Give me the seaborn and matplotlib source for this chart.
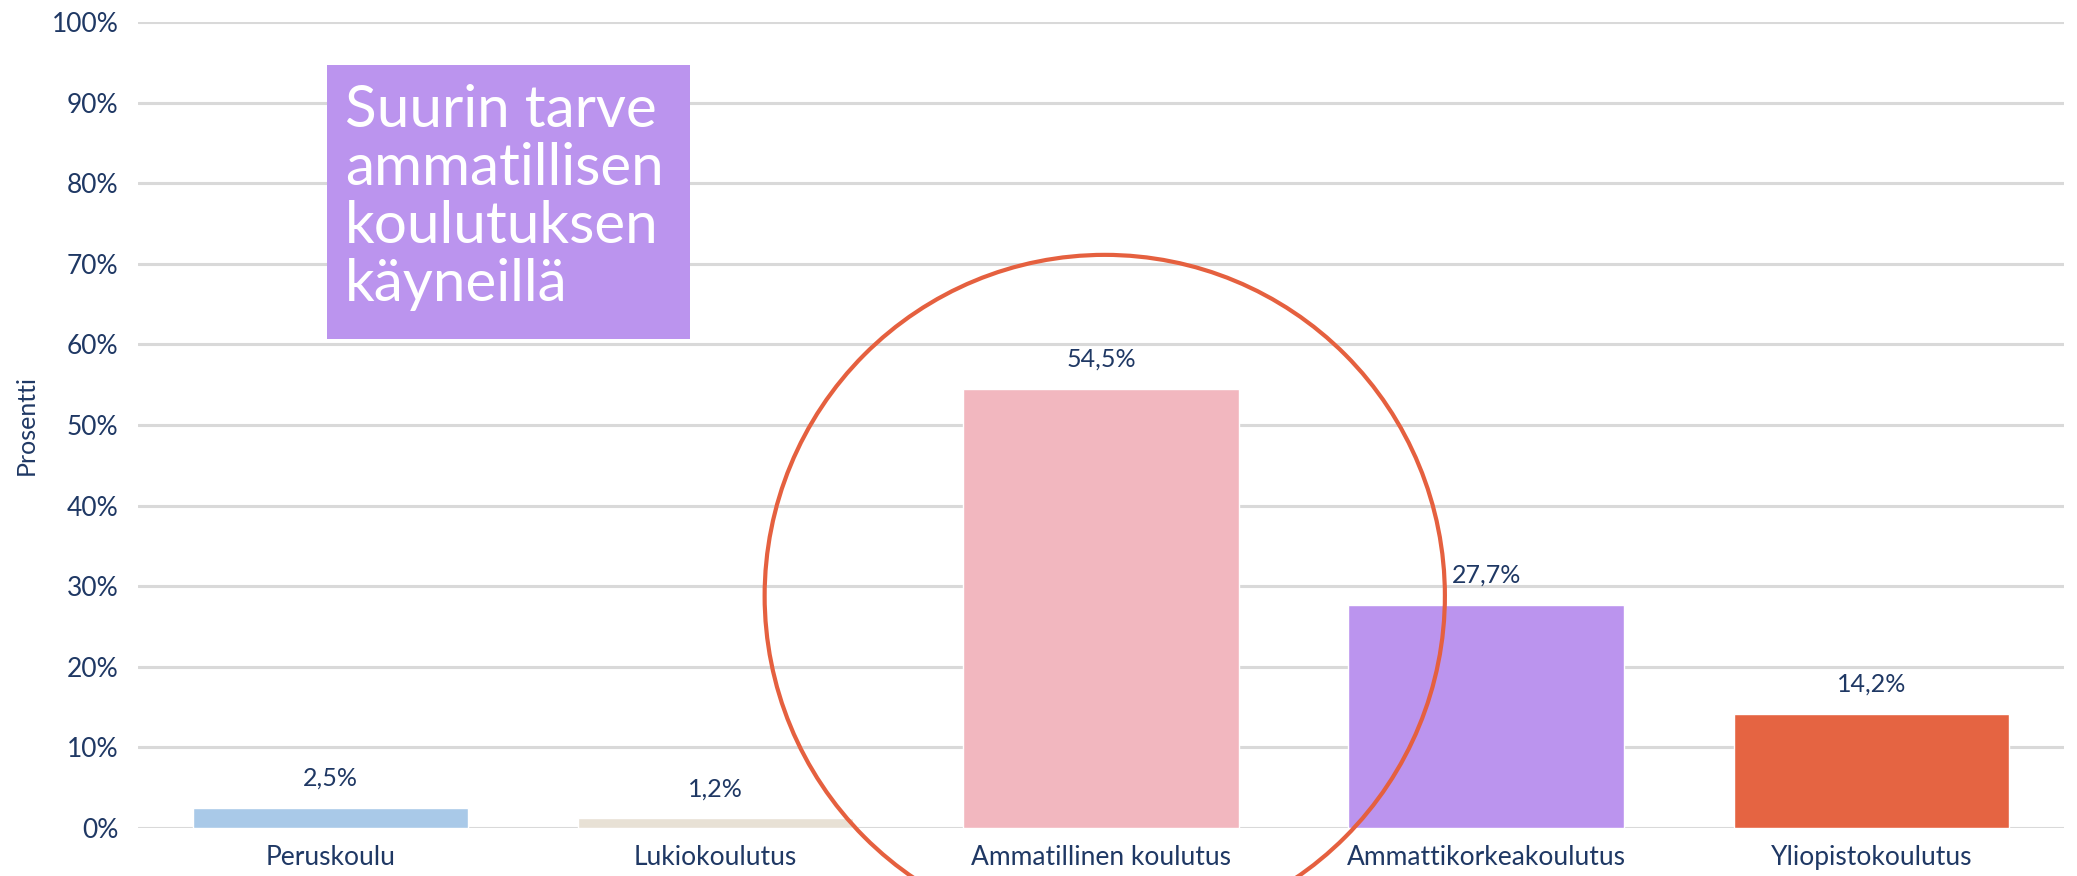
import matplotlib
matplotlib.use("Agg")
import matplotlib.pyplot as plt
import seaborn as sns
import pandas as pd
from matplotlib.patches import Ellipse

# Chart data
categories = ["Peruskoulu", "Lukiokoulutus", "Ammatillinen koulutus",
              "Ammattikorkeakoulutus", "Yliopistokoulutus"]
values = [2.5, 1.2, 54.5, 27.7, 14.2]
value_labels = ["2,5%", "1,2%", "54,5%", "27,7%", "14,2%"]
bar_colors = ["#A9C9E8", "#E8E1D5", "#F2B7BF", "#BB94EE", "#E56442"]
ytick_values = [0, 10, 20, 30, 40, 50, 60, 70, 80, 90, 100]
ytick_labels = ["0%", "10%", "20%", "30%", "40%", "50%", "60%", "70%", "80%", "90%", "100%"]

text_color = "#1F3864"

sns.set_style("white")
plt.rcParams['font.family'] = ['Lato', 'DejaVu Sans']

df = pd.DataFrame({"Koulutus": categories, "Prosentti": values})

fig = plt.figure(figsize=(20.77, 8.76), dpi=100)
ax = fig.add_axes([0.0664, 0.0548, 0.9273, 0.9202])

sns.barplot(data=df, x="Koulutus", y="Prosentti", hue="Koulutus",
            palette=bar_colors, legend=False, width=0.715, saturation=1, ax=ax)

# Gridlines
ax.set_ylim(0, 100)
ax.set_xlim(-0.5, len(categories) - 0.5)
ax.set_yticks(ytick_values)
ax.set_yticklabels(ytick_labels)
ax.yaxis.grid(True, color="#D9D9D9", linewidth=2.2)
ax.set_axisbelow(True)
for s in ax.spines.values():
    s.set_visible(False)
ax.tick_params(axis="both", length=0, colors=text_color, labelsize=19)
ax.tick_params(axis="y", pad=14)
ax.tick_params(axis="x", pad=12)
ax.set_xlabel("")
ax.set_ylabel("Prosentti", color=text_color, fontsize=18, labelpad=10)

# Value labels above bars
for i, (v, lab) in enumerate(zip(values, value_labels)):
    ax.annotate(lab, (i, v), xytext=(0, 13), textcoords="offset points",
                ha="center", va="bottom", color=text_color, fontsize=18)

# Highlight circle around vocational education
circle = Ellipse((2.01, 28.8), width=2 * 0.883, height=2 * 42.3,
                 fill=False, edgecolor="#E5603F", linewidth=3, clip_on=False, zorder=5)
ax.add_patch(circle)

# Annotation box
ax.add_patch(plt.Rectangle((-0.008, 60.7), 0.942, 34.0, facecolor="#BB94EE",
                           edgecolor="none", zorder=4))
ax.text(0.037, 92.3, "Suurin tarve\nammatillisen\nkoulutuksen\nkäyneillä",
        ha="left", va="top", color="white", fontsize=42, fontweight="normal",
        linespacing=1.12, zorder=6)

fig.savefig("out.png", dpi=100)
